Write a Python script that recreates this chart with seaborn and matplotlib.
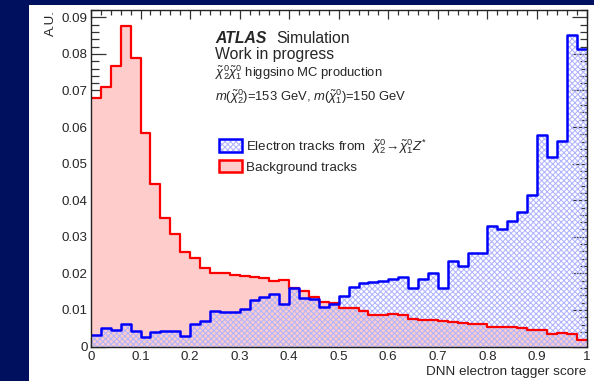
import numpy as np
import pandas as pd
import matplotlib
matplotlib.use("Agg")
import matplotlib.pyplot as plt
import seaborn as sns
from matplotlib.patches import Rectangle, Patch
from matplotlib.legend_handler import HandlerTuple
from matplotlib.ticker import MultipleLocator, FuncFormatter

# ---------------- data (50 bins of width 0.02) ----------------
bin_width = 0.02
x_range = (0.0, 1.0)
background = [0.0679, 0.0710, 0.0767, 0.0876, 0.0790, 0.0583, 0.0444, 0.0350, 0.0307, 0.0259,
              0.0243, 0.0214, 0.0201, 0.0200, 0.0195, 0.0192, 0.0191, 0.0186, 0.0179, 0.0182,
              0.0161, 0.0152, 0.0136, 0.0123, 0.0118, 0.0104, 0.0106, 0.0097, 0.0086, 0.0086,
              0.0089, 0.0085, 0.0076, 0.0073, 0.0073, 0.0071, 0.0068, 0.0063, 0.0062, 0.0061,
              0.0052, 0.0052, 0.0052, 0.0051, 0.0046, 0.0044, 0.0035, 0.0037, 0.0035, 0.0017]
electron = [0.0032, 0.0050, 0.0045, 0.0062, 0.0042, 0.0027, 0.0039, 0.0042, 0.0042, 0.0030,
            0.0062, 0.0071, 0.0098, 0.0093, 0.0093, 0.0102, 0.0127, 0.0134, 0.0143, 0.0115,
            0.0159, 0.0132, 0.0129, 0.0109, 0.0116, 0.0139, 0.0162, 0.0173, 0.0175, 0.0178,
            0.0184, 0.0190, 0.0159, 0.0184, 0.0202, 0.0159, 0.0234, 0.0220, 0.0256, 0.0256,
            0.0329, 0.0320, 0.0344, 0.0368, 0.0413, 0.0578, 0.0519, 0.0562, 0.0852, 0.0813]
bin_centers = [round(bin_width * (i + 0.5), 4) for i in range(len(background))]

label_electron = r"Electron tracks from  $\tilde{\chi}^{0}_{2}\!\rightarrow\!\tilde{\chi}^{0}_{1}Z^{*}$"
label_background = "Background tracks"
x_label = "DNN electron tagger score"
y_label = "A.U."

df_bg = pd.DataFrame({"score": bin_centers, "w": background})
df_el = pd.DataFrame({"score": bin_centers, "w": electron})

# ---------------- style ----------------
sns.set_style("ticks")
plt.rcParams["font.family"] = ["Liberation Sans", "DejaVu Sans"]
plt.rcParams["mathtext.fontset"] = "custom"
plt.rcParams["mathtext.rm"] = "Liberation Sans"
plt.rcParams["mathtext.it"] = "Liberation Sans:italic"
plt.rcParams["mathtext.bf"] = "Liberation Sans:bold"
plt.rcParams["hatch.linewidth"] = 0.75

HATCH_COL = "#B0B4FF"
HATCH = "xxxxxx"

W, H = 594, 381
fig = plt.figure(figsize=(W / 100, H / 100), dpi=100, facecolor="#00105E")
fig.add_artist(Rectangle((29 / W, 0), 1 - 29 / W, 376 / H, transform=fig.transFigure,
                         facecolor="white", edgecolor="none", zorder=0))
L, R, T, B = 91, 586.5, 10, 346.5
ax = fig.add_axes([L / W, 1 - B / H, (R - L) / W, (B - T) / H])
ax.set_facecolor("white")

common = dict(x="score", weights="w", binwidth=bin_width, binrange=x_range,
              element="step", stat="count", ax=ax)
sns.histplot(data=df_bg, fill=True, color="#FFCCCC", facecolor="#FFCCCC", edgecolor="none",
             linewidth=0, alpha=1, **common)
sns.histplot(data=df_bg, fill=False, color="#FF0000", linewidth=1.6, **common)
sns.histplot(data=df_el, fill=True, color=HATCH_COL, facecolor="none", edgecolor=HATCH_COL,
             hatch=HATCH, linewidth=0, **common)
sns.histplot(data=df_el, fill=False, color="#0000FF", linewidth=1.8, **common)

ax.set_xlim(0, 1)
ax.set_ylim(0, 0.092)
ax.set_xlabel("")
ax.set_ylabel("")

ax.xaxis.set_major_locator(MultipleLocator(0.1))
ax.xaxis.set_minor_locator(MultipleLocator(0.02))
ax.yaxis.set_major_locator(MultipleLocator(0.01))
ax.yaxis.set_minor_locator(MultipleLocator(0.002))
ax.xaxis.set_major_formatter(FuncFormatter(lambda v, p: f"{v:.1f}".rstrip("0").rstrip(".") if abs(v) > 1e-9 else "0"))
ax.yaxis.set_major_formatter(FuncFormatter(lambda v, p: f"{v:.2f}".rstrip("0").rstrip(".") if abs(v) > 1e-9 else "0"))

ax.tick_params(axis="x", which="major", direction="in", length=6.5, width=0.9, top=True,
               labelsize=9.6, pad=3.5, color="#333333")
ax.tick_params(axis="x", which="minor", direction="in", length=3.3, width=0.9, top=True,
               color="#333333")
ax.tick_params(axis="y", which="major", direction="in", length=10.8, width=0.9, right=True,
               labelsize=9.6, pad=2.5, color="#333333")
ax.tick_params(axis="y", which="minor", direction="in", length=5.4, width=0.9, right=True,
               color="#333333")
for s in ax.spines.values():
    s.set_linewidth(1.0)
    s.set_color("#222222")
    s.set_zorder(5)


def fx(x):
    return x / W


def fy(y):
    return 1 - y / H


fig.text(fx(R), fy(375), x_label, ha="right", va="baseline", fontsize=9.7)
fig.text(fx(51), fy(10), y_label, ha="center", va="top", rotation=90, fontsize=9.6)

fig.text(fx(215), fy(43), "ATLAS", fontsize=11.3, fontweight="bold", fontstyle="italic",
         va="baseline")
fig.text(fx(276), fy(43), "Simulation", fontsize=11.3, va="baseline")
fig.text(fx(215), fy(59.5), "Work in progress", fontsize=11.3, va="baseline")
fig.text(fx(215), fy(77), r"$\tilde{\chi}^{0}_{2}\tilde{\chi}^{0}_{1}$ higgsino MC production",
         fontsize=9.4, va="baseline")
fig.text(fx(215), fy(101),
         r"$m(\tilde{\chi}^{0}_{2})$=153 GeV, $m(\tilde{\chi}^{0}_{1})$=150 GeV",
         fontsize=9.4, va="baseline")

h_el = (Patch(facecolor="none", edgecolor=HATCH_COL, hatch=HATCH, linewidth=0),
        Patch(facecolor="none", edgecolor="#0000FF", linewidth=1.8))
h_bg = Patch(facecolor="#FFCCCC", edgecolor="#FF0000", linewidth=1.8)
ax.legend([h_el, h_bg], [label_electron, label_background],
          handler_map={tuple: HandlerTuple(ndivide=1)},
          loc="upper left", bbox_to_anchor=(fx(219), fy(137)), bbox_transform=fig.transFigure,
          frameon=False, fontsize=9.6, borderpad=0, borderaxespad=0,
          handlelength=1.7, handleheight=1.1, handletextpad=0.3, labelspacing=0.3)

fig.savefig("out.png", dpi=100, facecolor=fig.get_facecolor())
